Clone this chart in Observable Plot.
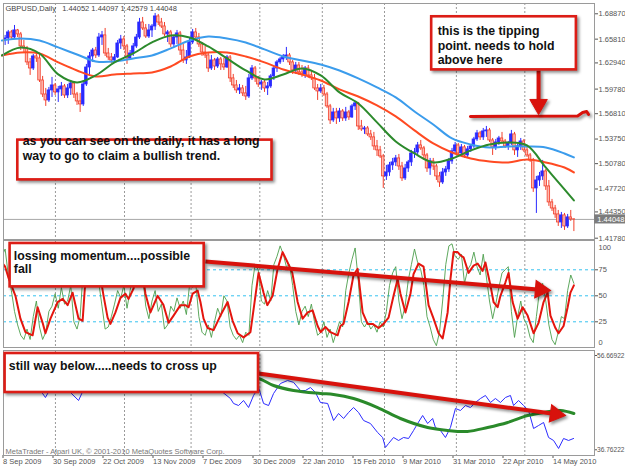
<!DOCTYPE html>
<html><head><meta charset="utf-8">
<script src="https://cdn.jsdelivr.net/npm/d3@7"></script>
<script src="https://cdn.jsdelivr.net/npm/@observablehq/plot@0.6"></script>
<style>
body{margin:0;background:#fff;}
#chart{position:relative;width:625px;height:469px;overflow:hidden;background:#fff;}
#chart svg{position:absolute;left:0;}
</style></head><body><div id="chart"></div>
<script>
// ---------- DATA ----------
const symbolTitle = "GBPUSD,Daily\u00a0\u00a0 1.44052 1.44097 1.42579 1.44048";
const copyright = "MetaTrader - Alpari UK, \u00a9 2001-2010 MetaQuotes Software Corp.";
const dateLabels = ["8 Sep 2009","30 Sep 2009","22 Oct 2009","13 Nov 2009","7 Dec 2009","30 Dec 2009","22 Jan 2010","15 Feb 2010","9 Mar 2010","31 Mar 2010","22 Apr 2010","14 May 2010"];
const dateTickIdx = [0,16,32,48,64,80,96,112,128,144,160,176];
const monthGridIdx = [17.1,39.2,60.5,82.5,102.5,122.4,145.4,167.3];
const priceTicks = [1.68870,1.65810,1.62940,1.59780,1.56810,1.53750,1.50780,1.47720,1.41780];
const priceTickHidden = [1.44350];
const stochTicks = [75,50,25];
const stochLevels = [75,50,25];
const oscTicks = [56.66922,36.76222];

const open = [1.6481,1.6565,1.6589,1.6662,1.6601,1.6686,1.6638,1.6493,1.6469,1.6300,
1.6227,1.6372,1.6348,1.6082,1.5913,1.5841,1.5962,1.6022,1.5938,1.5974,
1.6010,1.5901,1.5986,1.6046,1.5913,1.5829,1.5793,1.6034,1.6239,1.6372,
1.6444,1.6384,1.6601,1.6626,1.6408,1.6360,1.6324,1.6360,1.6529,1.6577,
1.6493,1.6348,1.6408,1.6493,1.6601,1.6782,1.6710,1.6613,1.6686,1.6734,
1.6855,1.6782,1.6734,1.6638,1.6662,1.6517,1.6601,1.6650,1.6444,1.6324,
1.6360,1.6541,1.6662,1.6601,1.6517,1.6420,1.6384,1.6227,1.6324,1.6251,
1.6336,1.6276,1.6239,1.6360,1.6107,1.6022,1.5962,1.5986,1.5926,1.5889,
1.6107,1.6227,1.6107,1.6034,1.6058,1.5986,1.6010,1.6131,1.6227,1.6300,
1.6336,1.6372,1.6384,1.6300,1.6203,1.6263,1.6179,1.6155,1.6227,1.6143,
1.6107,1.5986,1.5950,1.5986,1.5913,1.5769,1.5600,1.5696,1.5624,1.5708,
1.5624,1.5696,1.5636,1.5769,1.5805,1.5527,1.5491,1.5503,1.5431,1.5395,
1.5286,1.5238,1.5165,1.4924,1.4972,1.5057,1.5093,1.5141,1.5044,1.4900,
1.5020,1.5093,1.5201,1.5213,1.5298,1.5262,1.5177,1.5020,1.5105,1.5044,
1.4924,1.4851,1.4972,1.5008,1.5105,1.5226,1.5298,1.5201,1.5274,1.5177,
1.5250,1.5286,1.5370,1.5443,1.5395,1.5467,1.5479,1.5358,1.5274,1.5334,
1.5382,1.5346,1.5286,1.5322,1.5431,1.5238,1.5286,1.5346,1.5238,1.5177,
1.5117,1.4779,1.4875,1.4924,1.4984,1.4803,1.4610,1.4537,1.4465,1.4368,
1.4453,1.4320,1.4429,1.44052];
const high = [1.6589,1.6626,1.6686,1.6686,1.6746,1.6698,1.6662,1.6565,1.6493,1.6348,
1.6396,1.6420,1.6396,1.6131,1.5986,1.5998,1.6119,1.6046,1.6010,1.6058,
1.6034,1.6034,1.6082,1.6070,1.5938,1.5926,1.6082,1.6276,1.6420,1.6469,
1.6481,1.6650,1.6674,1.6710,1.6469,1.6408,1.6396,1.6565,1.6626,1.6613,
1.6517,1.6444,1.6529,1.6638,1.6831,1.6843,1.6758,1.6758,1.6758,1.6891,
1.6879,1.6831,1.6782,1.6686,1.6686,1.6626,1.6686,1.6674,1.6517,1.6444,
1.6589,1.6698,1.6710,1.6650,1.6541,1.6493,1.6420,1.6384,1.6348,1.6360,
1.6360,1.6348,1.6384,1.6384,1.6155,1.6082,1.6034,1.6022,1.6010,1.6155,
1.6263,1.6251,1.6131,1.6082,1.6082,1.6058,1.6155,1.6251,1.6324,1.6360,
1.6396,1.6481,1.6408,1.6324,1.6300,1.6300,1.6263,1.6251,1.6263,1.6203,
1.6155,1.6034,1.6034,1.6022,1.5938,1.5793,1.5745,1.5745,1.5745,1.5732,
1.5757,1.5720,1.5793,1.5829,1.5817,1.5600,1.5527,1.5527,1.5479,1.5455,
1.5358,1.5286,1.5189,1.5057,1.5093,1.5141,1.5177,1.5189,1.5093,1.5069,
1.5117,1.5238,1.5262,1.5334,1.5358,1.5286,1.5201,1.5141,1.5141,1.5069,
1.4972,1.5020,1.5044,1.5141,1.5262,1.5334,1.5322,1.5310,1.5298,1.5286,
1.5310,1.5395,1.5479,1.5467,1.5503,1.5527,1.5503,1.5382,1.5370,1.5407,
1.5455,1.5370,1.5346,1.5479,1.5455,1.5310,1.5382,1.5370,1.5286,1.5201,
1.5141,1.4924,1.4972,1.5117,1.5008,1.4875,1.4646,1.4574,1.4513,1.4489,
1.4477,1.4465,1.4513,1.44097];
const low = [1.6348,1.6505,1.6517,1.6565,1.6589,1.6601,1.6444,1.6420,1.6263,1.6143,
1.6203,1.6300,1.6058,1.5877,1.5769,1.5817,1.5877,1.5901,1.5817,1.5889,
1.5865,1.5865,1.5901,1.5865,1.5781,1.5696,1.5769,1.6010,1.6131,1.6300,
1.6348,1.6360,1.6505,1.6372,1.6324,1.6288,1.6300,1.6348,1.6457,1.6444,
1.6276,1.6324,1.6372,1.6469,1.6577,1.6686,1.6589,1.6589,1.6601,1.6686,
1.6746,1.6710,1.6613,1.6541,1.6481,1.6481,1.6517,1.6384,1.6288,1.6276,
1.6348,1.6517,1.6565,1.6481,1.6372,1.6348,1.6179,1.6203,1.6203,1.6227,
1.6203,1.6203,1.6227,1.6058,1.5986,1.5926,1.5913,1.5889,1.5841,1.5865,
1.6082,1.6058,1.5998,1.5962,1.5938,1.5901,1.5986,1.6082,1.6179,1.6276,
1.6300,1.6324,1.6263,1.6155,1.6155,1.6143,1.6119,1.6107,1.6107,1.6082,
1.5962,1.5841,1.5926,1.5889,1.5745,1.5551,1.5576,1.5551,1.5576,1.5588,
1.5588,1.5600,1.5624,1.5720,1.5479,1.5467,1.5431,1.5407,1.5358,1.5238,
1.5165,1.5141,1.4779,1.4875,1.4924,1.4996,1.5044,1.4996,1.4863,1.4875,
1.4972,1.5044,1.5141,1.5177,1.5238,1.5117,1.4972,1.4936,1.4996,1.4875,
1.4791,1.4827,1.4924,1.4972,1.5069,1.5189,1.5165,1.5177,1.5141,1.5153,
1.5213,1.5262,1.5346,1.5358,1.5358,1.5395,1.5334,1.5177,1.5238,1.5298,
1.5322,1.5262,1.5238,1.5298,1.5177,1.5153,1.5238,1.5213,1.5153,1.5093,
1.4731,1.4477,1.4803,1.4875,1.4755,1.4562,1.4501,1.4417,1.4320,1.4296,
1.4272,1.4296,1.4381,1.42579];
const close = [1.6565,1.6589,1.6662,1.6601,1.6686,1.6638,1.6493,1.6469,1.6300,1.6227,
1.6372,1.6348,1.6082,1.5913,1.5841,1.5962,1.6022,1.5938,1.5974,1.6010,
1.5901,1.5986,1.6046,1.5913,1.5829,1.5793,1.6034,1.6239,1.6372,1.6444,
1.6384,1.6601,1.6626,1.6408,1.6360,1.6324,1.6360,1.6529,1.6577,1.6493,
1.6348,1.6408,1.6493,1.6601,1.6782,1.6710,1.6613,1.6686,1.6734,1.6855,
1.6782,1.6734,1.6638,1.6662,1.6517,1.6601,1.6650,1.6444,1.6324,1.6360,
1.6541,1.6662,1.6601,1.6517,1.6420,1.6384,1.6227,1.6324,1.6251,1.6336,
1.6276,1.6239,1.6360,1.6107,1.6022,1.5962,1.5986,1.5926,1.5889,1.6107,
1.6227,1.6107,1.6034,1.6058,1.5986,1.6010,1.6131,1.6227,1.6300,1.6336,
1.6372,1.6384,1.6300,1.6203,1.6263,1.6179,1.6155,1.6227,1.6143,1.6107,
1.5986,1.5950,1.5986,1.5913,1.5769,1.5600,1.5696,1.5624,1.5708,1.5624,
1.5696,1.5636,1.5769,1.5805,1.5527,1.5491,1.5503,1.5431,1.5395,1.5286,
1.5238,1.5165,1.4924,1.4972,1.5057,1.5093,1.5141,1.5044,1.4900,1.5020,
1.5093,1.5201,1.5213,1.5298,1.5262,1.5177,1.5020,1.5105,1.5044,1.4924,
1.4851,1.4972,1.5008,1.5105,1.5226,1.5298,1.5201,1.5274,1.5177,1.5250,
1.5286,1.5370,1.5443,1.5395,1.5467,1.5479,1.5358,1.5274,1.5334,1.5382,
1.5346,1.5286,1.5322,1.5431,1.5238,1.5286,1.5346,1.5238,1.5177,1.5117,
1.4779,1.4875,1.4924,1.4984,1.4803,1.4610,1.4537,1.4465,1.4368,1.4453,
1.4320,1.4429,1.4405,1.44048];

// moving averages, read at sample bars
const maIdx = [0,6,12,18,24,30,36,42,48,54,60,66,72,78,84,90,96,102,108,114,120,126,132,138,144,150,156,162,168,174,180,183];
const maSlow = [1.6565,1.6589,1.6565,1.6481,1.6396,1.6312,1.6312,1.6348,1.6384,1.6469,1.6565,1.6613,1.6589,1.6541,1.6457,1.6372,1.6324,1.6276,1.6203,1.6107,1.5998,1.5877,1.5708,1.5551,1.5382,1.5310,1.5274,1.5286,1.5286,1.5274,1.5201,1.5153];
const maMid = [1.6384,1.6420,1.6408,1.6300,1.6203,1.6131,1.6155,1.6167,1.6179,1.6251,1.6372,1.6420,1.6420,1.6372,1.6300,1.6215,1.6155,1.6082,1.5974,1.5889,1.5781,1.5648,1.5479,1.5322,1.5213,1.5141,1.5105,1.5093,1.5129,1.5093,1.5032,1.4972];
const maFast = [1.6384,1.6481,1.6408,1.6155,1.6058,1.6143,1.6300,1.6408,1.6541,1.6626,1.6601,1.6493,1.6348,1.6203,1.6095,1.6155,1.6227,1.6143,1.5938,1.5805,1.5576,1.5346,1.5201,1.5093,1.5141,1.5238,1.5310,1.5334,1.5298,1.5032,1.4767,1.4634];

// stochastic %K per bar, %D read as [bar, value]
const stochK = [88,95,70,55,35,22,12,8,18,8,30,45,20,8,15,35,40,52,38,58,
42,45,60,25,18,30,75,90,96,88,80,62,40,18,20,30,42,55,48,60,
38,55,75,88,95,70,40,28,45,55,35,42,18,22,40,35,48,38,45,32,
60,58,62,30,15,12,22,10,25,38,30,50,45,20,12,8,12,5,15,12,
60,80,75,45,42,55,45,80,88,98,90,78,80,60,35,22,35,40,30,42,
25,12,15,25,10,18,5,15,25,20,55,72,85,96,65,25,20,25,18,22,
15,25,20,35,60,72,78,45,28,40,65,80,95,82,75,60,30,20,8,2,
15,45,80,98,100,88,85,90,62,75,80,92,78,70,90,68,45,28,42,58,
72,75,78,35,10,30,45,28,22,10,5,30,55,62,45,22,8,3,15,30,
28,55,70,62];
const stochD = [[0,82],[1,78],[2,68],[3,60],[4.3,50],[5.9,28],[7.5,15],[9.8,12],[11.4,39],[13,24],[13.9,14],[15.5,28],[17.8,44],[19.4,47],[21,41],[22.6,53],[24.5,28],[25.8,26],[26.5,57],[27.5,78],[28.5,90],[29.5,92],[30.5,85],[31.5,68],[32.5,50],[33.8,29],[34.7,23],[36.3,34],[37.9,48],[39.5,52],[40.5,47],[42.1,57],[43,72],[44,84],[45,70],[45.9,52],[47.5,34],[49.8,50],[51.7,41],[53.3,24],[54.9,31],[57.1,41],[58.7,41],[59.7,39],[61,52],[62.6,55],[63.5,44],[64.5,28],[65.8,19],[67.7,17],[69.9,31],[72.2,44],[73.8,26],[75.4,14],[77.3,10],[79.5,15],[81.1,50],[82.1,72],[83.7,53],[84.9,41],[86.6,50],[88.2,76],[89.8,92],[91.4,82],[92.9,72],[94.6,44],[96.2,28],[97.8,34],[99.4,36],[101,21],[102,15],[103.5,20],[105.1,15],[107.4,12],[108.3,21],[109.3,23],[110.9,44],[112.5,70],[113.8,76],[115.4,34],[117,23],[118.6,23],[120.5,19],[122.1,23],[123.7,29],[125.3,50],[126.6,66],[127.5,52],[129.1,34],[130.7,52],[131.7,71],[133.3,81],[134.9,78],[136.5,41],[138.1,28],[139.7,14],[141,9],[142.6,34],[143.5,66],[144.5,92],[145.8,92],[146.7,89],[147.7,87],[149.3,72],[150.9,79],[152.2,81],[153.8,74],[154.7,82],[156.3,60],[157.3,44],[158.6,39],[159.5,50],[161.1,63],[162.1,72],[163.4,44],[165,28],[166.6,39],[168.2,31],[170.1,14],[171.7,24],[173.3,44],[174.6,53],[175.5,31],[177.1,19],[178.1,14],[179.7,21],[181,39],[181.9,53],[183,60]];

// lower oscillator (blue) and its smoothed average (green), [bar, value]
const oscLine = [[0.2,55.19],[2.7,56.03],[5.9,54.56],[9.1,52.45],[12.3,49.28],[13.9,47.80],[15.5,49.70],[18.7,51.39],[21.9,48.86],[24.5,47.17],[26.7,50.33],[29.9,53.50],[33.1,55.61],[36.3,54.56],[39.5,53.08],[42.7,55.19],[47.5,56.67],[50.7,55.61],[53.9,53.92],[57.1,55.19],[60.3,53.08],[63.5,51.39],[66.7,50.33],[69.9,49.28],[73.1,47.59],[74.1,46.54],[75.7,46.11],[77.3,47.17],[78.9,45.69],[80.5,48.23],[82.1,49.91],[83.7,46.54],[85.3,46.11],[86.9,48.65],[89.1,50.76],[91.4,51.39],[93.3,51.0],[95.5,49.28],[97.1,49.28],[98.7,49.91],[100.3,48.86],[101.9,46.75],[104.2,46.54],[106.1,42.95],[107.7,44.43],[109.3,43.37],[110.9,44.64],[112.5,45.69],[114.1,44.64],[115.7,42.95],[117.9,42.31],[120.2,40.41],[121.8,39.36],[122.7,37.25],[123.7,38.09],[125.3,39.36],[126.9,38.73],[128.5,39.36],[130.1,39.15],[131.7,40.84],[133,42.31],[134.6,44.00],[136.2,42.31],[137.8,43.37],[138.7,41.47],[140.3,40.84],[141.9,39.36],[143.5,41.47],[145.1,45.48],[146.7,45.06],[148.3,46.11],[149.9,45.69],[151.5,46.75],[153.1,47.59],[154.7,48.23],[156.3,46.75],[157.9,47.59],[159.5,46.75],[161.1,47.80],[162.7,48.23],[163.7,46.11],[165.3,47.17],[166.9,46.11],[168.5,45.06],[170.1,41.26],[171.7,41.89],[173.3,42.53],[174.9,39.36],[176.5,38.73],[178.1,37.04],[179.7,39.15],[181.3,38.73],[182.9,39.15]];
const oscAvg = [[0.2,53.08],[18.7,53.50],[37.9,53.71],[57.1,53.50],[73.1,52.66],[82.1,51.81],[86.9,50.33],[93.3,49.28],[101.9,48.65],[106.1,48.44],[112.5,47.59],[120.2,45.69],[127.5,43.37],[136.2,41.47],[142.6,40.84],[148.9,40.63],[155.4,41.47],[161.8,42.53],[168.2,44.00],[173.3,44.64],[178.7,45.06],[183,44.43]];

const notes = [
  "as you can see on the daily, it has a long\nway to go to claim a bullish trend.",
  "this is the tipping\npoint. needs to hold\nabove here",
  "lossing momentum....possible\nfall",
  "still way below.....needs to cross up"
];

// ---------- DRAWING ----------
const W = 625, xLo = 0.48, xHi = 189.6;
const FONT = '"Liberation Sans", Arial, sans-serif';
const upC = "#2a2aff", dnStroke = "#f2402c", dnFill = "#ffb8ad";
const boxRed = "#dc1d16", arrowRed = "#d8120c";
const shadow = "drop-shadow(2px 2px 1.5px rgba(0,0,0,0.45))";
const bars = close.map((c, i) => ({i, open: open[i], high: high[i], low: low[i], close: c, up: c >= open[i]}));
const last = close[close.length - 1];
const baseStyle = {fontFamily: FONT, fontSize: "7.5px", color: "#555", background: "transparent", overflow: "visible"};
const grid = () => Plot.ruleX(monthGridIdx, {stroke: "#9a9a9a", strokeDasharray: "2,2"});
const noteText = (k, x, y, lh) => Plot.text([notes[k]], {x: () => x, y: () => y, text: d => d, textAnchor: "start", lineAnchor: "middle", lineHeight: lh, fontSize: 12.3, fontWeight: "bold", fill: "#111", fontFamily: FONT});
const noteBox = (x1, x2, y1, y2) => Plot.rect([0], {x1: () => x1, x2: () => x2, y1: () => y1, y2: () => y2, fill: "white", stroke: boxRed, strokeWidth: 2.6, imageFilter: shadow});
const line = (pts, opts) => Plot.line(pts, {x: d => d[0], y: d => d[1], ...opts});
// arrow: shaft from (x1,y1) to head centre (x2,y2), filled triangular head rotated by angle
const arrowMarks = (x1, y1, x2, y2, angle) => [
  Plot.link([0], {x1: () => x1, y1: () => y1, x2: () => x2, y2: () => y2, stroke: arrowRed, strokeWidth: 4, imageFilter: shadow}),
  Plot.dot([0], {x: () => x2, y: () => y2, symbol: "triangle", r: 6.5, rotate: angle, fill: arrowRed, stroke: arrowRed, strokeWidth: 1, imageFilter: shadow})
];

const panelA = Plot.plot({
  width: W, height: 240, marginLeft: 3, marginRight: 31, marginTop: 3, marginBottom: 1,
  style: baseStyle,
  x: {domain: [xLo, xHi], axis: null},
  y: {domain: [1.41623, 1.70113], axis: null},
  marks: [
    grid(),
    Plot.ruleY([last], {stroke: "#a8a8a8"}),
    Plot.ruleX(bars, {x: "i", y1: "low", y2: "high", stroke: d => d.up ? upC : dnStroke, strokeWidth: 1, clip: true}),
    Plot.rect(bars, {x1: d => d.i - 0.4, x2: d => d.i + 0.4, y1: "open", y2: "close", fill: d => d.up ? upC : dnFill, stroke: d => d.up ? upC : dnStroke, strokeWidth: 0.8, clip: true}),
    Plot.line(maIdx, {x: d => d, y: (d, k) => maSlow[k], stroke: "#3b9cec", strokeWidth: 2, curve: "catmull-rom"}),
    Plot.line(maIdx, {x: d => d, y: (d, k) => maMid[k], stroke: "#ff4a22", strokeWidth: 2, curve: "catmull-rom"}),
    Plot.line(maIdx, {x: d => d, y: (d, k) => maFast[k], stroke: "#2c8a2c", strokeWidth: 2, curve: "catmull-rom"}),
    Plot.axisY({ticks: priceTicks, anchor: "right", tickSize: 3, tickPadding: 1, tickFormat: d3.format(".5f"), label: null}),
    Plot.axisY({ticks: priceTickHidden, anchor: "right", tickSize: 3, tickPadding: 1, dy: -5, tickFormat: d3.format(".5f"), label: null}),
    Plot.frame({stroke: "#9a9a9a"}),
    Plot.text([symbolTitle], {frameAnchor: "top-left", dx: 2, dy: 2, text: d => d, fill: "#444"}),
    Plot.rect([last], {x1: () => xHi + 0.05, x2: () => xHi + 10, y1: d => d - 0.0055, y2: d => d + 0.0055, fill: "#7c7c7c"}),
    Plot.text([last], {x: () => xHi + 0.9, y: d => d, text: d => d.toFixed(5), textAnchor: "start", fill: "white"}),
    // tipping point annotation
    Plot.line([[149.9,1.5648],[184.2,1.5654],[185.8,1.5696],[187.1,1.5708],[187.7,1.5672]], {x: d => d[0], y: d => d[1], stroke: arrowRed, strokeWidth: 3, imageFilter: shadow}),
    ...arrowMarks(171.7, 1.6203, 171.7, 1.5792, 180),
    noteBox(137.5, 183.8, 1.6851, 1.6210),
    noteText(1, 139.4, 1.6510, 1.2),
    noteBox(5.06, 86.4, 1.5362, 1.4882),
    noteText(0, 6.6, 1.5270, 1.22)
  ]
});

const panelB = Plot.plot({
  width: W, height: 108, marginLeft: 3, marginRight: 31, marginTop: 0, marginBottom: 1,
  style: baseStyle,
  x: {domain: [xLo, xHi], axis: null},
  y: {domain: [0.29, 103.17], axis: null},
  marks: [
    grid(),
    Plot.ruleY(stochLevels, {stroke: "#36c2f0", strokeDasharray: "3,3"}),
    Plot.line(stochK, {x: (d, i) => i, y: d => d, stroke: "#4c9e4c", strokeWidth: 0.9, clip: true}),
    line(stochD, {stroke: "#e4150e", strokeWidth: 2, clip: true}),
    Plot.axisY({ticks: stochTicks, anchor: "right", tickSize: 3, tickPadding: 1, label: null}),
    Plot.axisY({ticks: [100], anchor: "right", tickSize: 0, tickPadding: 4, dy: 4, label: null}),
    Plot.axisY({ticks: [0], anchor: "right", tickSize: 0, tickPadding: 4, dy: -5, label: null}),
    Plot.frame({stroke: "#9a9a9a"}),
    ...arrowMarks(65.1, 83.0, 172.3, 55.9, 94.8),
    noteBox(2.59, 64.7, 100.3, 58.6),
    noteText(2, 3.78, 82.3, 1.1)
  ]
});

const panelC = Plot.plot({
  width: W, height: 121, marginLeft: 3, marginRight: 31, marginTop: 2, marginBottom: 14,
  style: baseStyle,
  x: {domain: [xLo, xHi]},
  y: {domain: [35.558, 57.725], axis: null},
  marks: [
    grid(),
    line(oscLine, {stroke: "#2b2bff", strokeWidth: 1, clip: true}),
    line(oscAvg, {stroke: "#2a8a2a", strokeWidth: 3, curve: "catmull-rom", clip: true}),
    Plot.axisY({ticks: oscTicks, anchor: "right", tickSize: 2, tickPadding: 0.5, fontSize: 6.6, tickFormat: d => d.toFixed(5), label: null}),
    Plot.axisX({ticks: dateTickIdx, anchor: "bottom", tickSize: 3, tickPadding: 0, textAnchor: "start", dx: 1, tickFormat: d => dateLabels[dateTickIdx.indexOf(d)], label: null}),
    Plot.frame({stroke: "#9a9a9a"}),
    Plot.text([copyright], {frameAnchor: "bottom-left", dx: 2, dy: -2, text: d => d, fill: "#777"}),
    ...arrowMarks(82.1, 52.87, 177.1, 44.3, 97.8),
    noteBox(0.99, 82.08, 57.09, 48.86),
    noteText(3, 2.18, 54.56, 1.1)
  ]
});

const root = document.getElementById("chart");
[[panelA, 0], [panelB, 240], [panelC, 348]].forEach(([svg, top]) => {
  svg.style.top = top + "px";
  root.appendChild(svg);
});
</script>
</body></html>
